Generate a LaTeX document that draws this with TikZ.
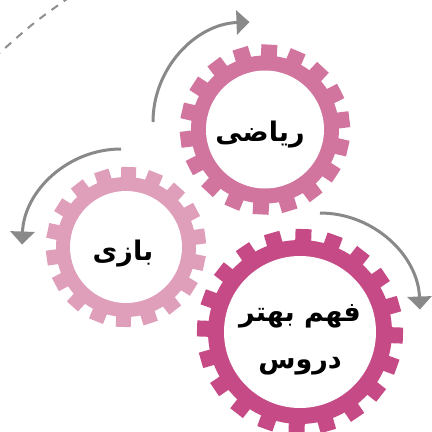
\documentclass[tikz,border=0pt]{standalone}
\usepackage{fontspec}
\usetikzlibrary{arrows.meta}
\TeXXeTstate=1
\newfontfamily\arabicfont[Script=Arabic]{DejaVu Sans Bold}
\definecolor{gearA}{HTML}{D1749E}
\definecolor{gearB}{HTML}{DF9EBA}
\definecolor{gearC}{HTML}{C54A85}
\definecolor{arrowgray}{HTML}{898989}
\definecolor{dashgray}{HTML}{8E8E8E}
% center, inner, body, teeth, n, phase, tooth width, colour
\newcommand{\mygear}[8]{%
  \fill[#8] (#1) circle[radius=#3pt];
  \foreach \k in {1,...,#5}{%
    \pgfmathsetmacro{\ang}{#6+360*\k/#5}%
    \fill[#8, shift={(#1)}, rotate=\ang] (#3-3,-#7/2) rectangle (#4,#7/2);
  }%
  \fill[white] (#1) circle[radius=#2pt];
}
\tikzset{
  arr/.style={draw=arrowgray, line width=3pt, -{Triangle[width=24pt,length=13pt]}},
  dashline/.style={draw=dashgray, line width=2pt, dash pattern=on 8pt off 7pt},
  lbl/.style={font=\arabicfont\fontsize{27}{47}\selectfont, text=black, align=center, inner sep=0pt}
}
\begin{document}
\begin{tikzpicture}[x=1pt,y=-1pt]
\useasboundingbox (0,0) rectangle (432,432);
\clip (0,0) rectangle (432,432);
\coordinate (g1) at (265,129.5);
\coordinate (g2) at (126,247);
\coordinate (g3) at (300,332);
\mygear{g1}{59}{74}{85}{18}{7}{16}{gearA}
\mygear{g2}{56}{70}{80}{18}{8}{15}{gearB}
\mygear{g3}{76}{92}{103}{20}{-2}{16}{gearC}
\node[lbl] (t1) at (260,135) {\beginR ریاضی\endR};
\node[lbl] (t2) at (123,254) {\beginR بازی\endR};
\node[lbl] (t3) at (300,340) {\beginR فهم بهتر\endR\\\beginR دروس\endR};
\coordinate (a1) at (153,122);
\coordinate (a2) at (121,149);
\coordinate (a3) at (320,213);
\draw[arr] (a1) arc[start angle=180, end angle=268, radius=100];
\draw[arr] (a2) arc[start angle=270, end angle=182, radius=99];
\draw[arr] (a3) arc[start angle=270, end angle=358, radius=100];
\coordinate (d1) at (-6,58);
\coordinate (d2) at (33,23);
\coordinate (d3) at (74,-6);
\draw[dashline] (d1) .. controls (d2) .. (d3);
\end{tikzpicture}
\end{document}
